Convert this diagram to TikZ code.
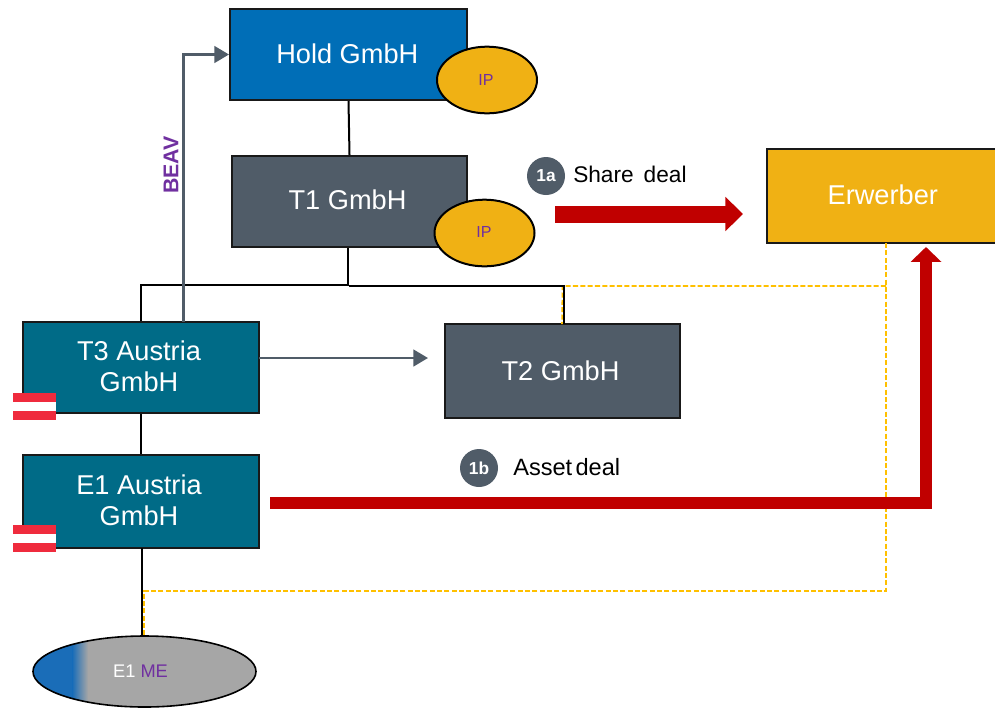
\documentclass[tikz,border=0pt]{standalone}
\usepackage{fontspec}
\setmainfont{Liberation Sans}
\usetikzlibrary{arrows.meta,calc,shapes.geometric}
\definecolor{holdblue}{HTML}{006EB7}
\definecolor{slategr}{HTML}{505C68}
\definecolor{tealbox}{HTML}{006B87}
\definecolor{goldbox}{HTML}{F0B114}
\definecolor{dealred}{HTML}{C00000}
\definecolor{purp}{HTML}{7030A0}
\definecolor{flagred}{HTML}{EF2B3D}
\definecolor{dashgold}{HTML}{FFC000}
\definecolor{megray}{HTML}{A6A6A6}
\definecolor{meblue}{HTML}{1A6DB8}
\newcommand\bt[3]{\raisebox{#2}[\height][\depth]{\hspace*{#1}#3\hspace*{-#1}}}
\tikzset{
  box/.style={draw=black!90,line width=1.5pt,rectangle,inner sep=0pt,text=white,align=center,
    minimum width=177pt,minimum height=69pt,font=\fontsize{20.4}{23.25}\selectfont},
  ipnode/.style={ellipse,draw=black,line width=1.5pt,fill=goldbox,text=purp,inner sep=0pt,
    minimum width=75pt,minimum height=50pt,font=\fontsize{12}{14}\selectfont},
  link/.style={draw=black,line width=1.5pt},
  dashlink/.style={draw=dashgold,line width=1.2pt,dash pattern=on 3.8pt off 1.7pt},
  grayarrow/.style={draw=slategr,line width=1.9pt,-{Triangle[length=11pt,width=12.5pt]}},
  badge/.style={circle,fill=slategr,text=white,inner sep=0pt,minimum size=28.5pt,font=\bfseries\fontsize{13}{15}\selectfont},
  deallabel/.style={anchor=west,inner sep=0pt,text=black},
  flagstripe/.style={fill=flagred,draw=none},
}
\begin{document}
\begin{tikzpicture}[x=.75pt,y=-.75pt]
\clip (0,0) rectangle (995,708);
\fill[white] (0,0) rectangle (995,708);
% boxes
\node[box,fill=holdblue,minimum width=177.75pt,minimum height=68.25pt] (hold) at (348.5,54.5) {\bt{-0.9pt}{0.8pt}{Hold GmbH}};
\node[box,fill=slategr,minimum width=176.25pt,minimum height=68.25pt] (t1) at (349.5,201.5) {\bt{-1.5pt}{1.1pt}{T1 GmbH}};
\node[box,fill=tealbox,minimum height=68.25pt] (t3) at (141,367.5) {\bt{-1.5pt}{0.8pt}{T3 Austria}\\\bt{-1.5pt}{0.8pt}{GmbH}};
\node[box,fill=tealbox,minimum height=69.75pt] (e1) at (141,501.5) {\bt{-1.5pt}{1.2pt}{E1 Austria}\\\bt{-1.5pt}{1.2pt}{GmbH}};
\node[box,fill=slategr,minimum width=176.25pt,minimum height=70.5pt] (t2) at (562.5,371) {\bt{-1.5pt}{0pt}{T2 GmbH}};
\node[box,fill=goldbox,minimum width=172.5pt,minimum height=70.5pt] (erw) at (882,196) {\bt{0.6pt}{0.8pt}{Erwerber}};
% IP ellipses
\node[ipnode] (iph) at (487,80) {\bt{-0.8pt}{0pt}{IP}};
\node[ipnode] (ipt) at (484.5,233) {\bt{-0.4pt}{0.6pt}{IP}};
% ME ellipse
\fill[megray] (144.5,671.5) ellipse [x radius=111.5,y radius=35.5];
\begin{scope}
  \clip (144.5,671.5) ellipse [x radius=111.5,y radius=35.5];
  \fill[meblue] (30,630) rectangle (73,710);
  \shade[left color=meblue,right color=megray,shading angle=90] (72.5,630) rectangle (88,710);
\end{scope}
\node[ellipse,draw=black,line width=1.2pt,inner sep=0pt,minimum width=167.25pt,minimum height=53.25pt,font=\fontsize{13.7}{16}\selectfont] (me) at (144.5,671.5) {\hspace{-6pt}\textcolor{white}{E1} \textcolor{purp}{ME}};
% coordinates
\coordinate (jr) at (349,286);
\coordinate (yt2) at (562.5,286);
\coordinate (yk) at (886,286);
\coordinate (ybot) at (886,591);
\coordinate (yme) at (144,591);
\coordinate (erwdash) at (886,243);
\coordinate (beavbase) at (183.5,322);
\coordinate (t3out) at (259,358);
\coordinate (t3arrow) at (428,358);
\coordinate (saStart) at (555,214);
\coordinate (saEnd) at (743,214);
\coordinate (adTurn) at (926,503);
\coordinate (adEnd) at (926,247);
% dashed
\draw[dashlink] (erwdash) -- (ybot) -- (yme) -- (144,636);
\draw[dashlink] (yk) -- (yt2) -- (562,324);
% black connectors
\draw[link] (hold.south) -- (t1.north);
\draw[link] (t1.south) ++(-1.5,0) -- ++(0,37) -| (t3.north);
\draw[link] (jr) -- (564,286) -- (564,324);
\draw[link] (t3.south) -- (e1.north);
\draw[link] (142,548) -- (142,636);
% grey arrows
\draw[grayarrow] (beavbase) |- (hold.west);
\draw[grayarrow] (t3out) -- (t3arrow);
% red arrows
\draw[draw=dealred,line width=12.75pt,-{Triangle[length=13.2pt,width=25pt]}] (saStart) -- (saEnd);
\draw[draw=dealred,line width=9pt,-{Triangle[length=11.2pt,width=22.5pt]}] ([shift={(10,1.5)}]e1.east) -- (adTurn) -- (adEnd);
% flags
\foreach \y in {393,525}{
  \fill[flagstripe] (13,\y) rectangle (56,\y+9);
  \fill[white] (13,\y+9) rectangle (56,\y+18);
  \fill[flagstripe] (13,\y+18) rectangle (56,\y+27);
}
% labels
\node[badge] (b1a) at (546,176) {1a};
\node[badge] (b1b) at (479,468) {1b};
\node[deallabel,font=\fontsize{17}{19}\selectfont] (share) at (573,174) {Share\hspace{7.5pt}deal};
\node[deallabel,font=\fontsize{17.7}{20}\selectfont] (asset) at (513,467) {Asset\hspace{2.5pt}deal};
\node[rotate=90,inner sep=0pt,text=purp,font=\bfseries\fontsize{16}{18}\selectfont] (beav) at (171,165) {BEAV};
\end{tikzpicture}
\end{document}
